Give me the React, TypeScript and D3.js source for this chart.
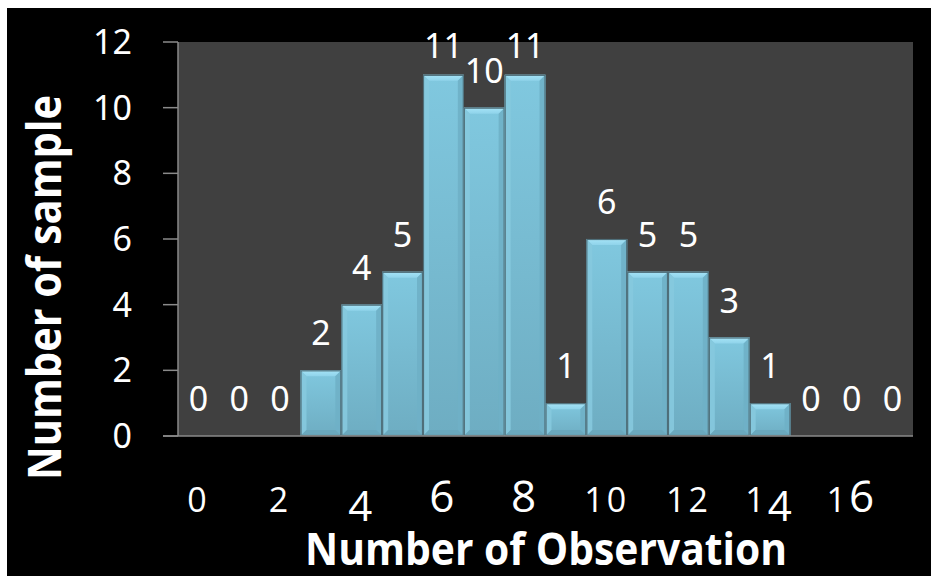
import React from "react";
import * as d3 from "d3";

// Histogram: number of samples per observation count
const categories = ["0", "1", "2", "3", "4", "5", "6", "7", "8", "9", "10", "11", "12", "13", "14", "15", "16", "17"];
const counts = [0, 0, 0, 2, 4, 5, 11, 10, 11, 1, 6, 5, 5, 3, 1, 0, 0, 0];
const xTickLabels = ["0", "2", "4", "6", "8", "10", "12", "14", "16"];
const yTicks = [0, 2, 4, 6, 8, 10, 12];

const W = 931;
const H = 576;
const plot = { left: 178, right: 913, top: 42, bottom: 436 };

const x = d3.scaleBand<string>().domain(categories).range([plot.left, plot.right]).padding(0);
const y = d3.scaleLinear().domain([0, 12]).range([plot.bottom, plot.top]);

// Old-style figure styling: x-height, ascending and descending digits
function digitStyle(ch: string) {
  if ("012".includes(ch)) return { size: 34, shift: 0 };
  if ("68".includes(ch)) return { size: 44, shift: 0 };
  return { size: 42, shift: 9 };
}

function OldStyleLabel({ text, cx, baseline }: { text: string; cx: number; baseline: number }) {
  let prev = 0;
  return (
    <text x={cx} y={baseline} textAnchor="middle" fill="#ffffff" fontFamily="'Open Sans', sans-serif" letterSpacing={3}>
      {text.split("").map((ch, i) => {
        const s = digitStyle(ch);
        const dy = s.shift - prev;
        prev = s.shift;
        return (
          <tspan key={i} fontSize={s.size} dy={dy}>
            {ch}
          </tspan>
        );
      })}
    </text>
  );
}

function Bar({ x0, w, y0, y1 }: { x0: number; w: number; y0: number; y1: number }) {
  const h = y1 - y0;
  if (h <= 0) return null;
  const b = Math.min(6, h / 2);
  const x1 = x0 + w;
  const pts = (arr: number[][]) => arr.map((p) => p.join(",")).join(" ");
  return (
    <g>
      <rect x={x0} y={y0} width={w} height={h} fill="url(#barFace)" />
      <polygon points={pts([[x0, y0], [x1, y0], [x1 - b, y0 + b], [x0 + b, y0 + b]])} fill="url(#barTop)" />
      <polygon points={pts([[x0, y0], [x0 + b, y0 + b], [x0 + b, y1 - b], [x0, y1]])} fill="#86c9de" opacity={0.9} />
      <polygon points={pts([[x1, y0], [x1, y1], [x1 - b, y1 - b], [x1 - b, y0 + b]])} fill="#6fb0c6" opacity={0.9} />
      <polygon points={pts([[x0, y1], [x0 + b, y1 - b], [x1 - b, y1 - b], [x1, y1]])} fill="#6aa8bd" />
      <rect x={x0 + 0.5} y={y0 + 0.5} width={w - 1} height={h - 1} fill="none" stroke="#4f6f7a" strokeWidth={1.2} />
    </g>
  );
}

export default function App() {
  const bw = x.bandwidth();
  return (
    <svg width={W} height={H} style={{ position: "absolute", left: 0, top: 0, display: "block" }}>
      <defs>
        <linearGradient id="barFace" x1="0" y1="0" x2="0" y2="1">
          <stop offset="0%" stopColor="#80c8df" />
          <stop offset="100%" stopColor="#6eadc2" />
        </linearGradient>
        <linearGradient id="barTop" x1="0" y1="0" x2="0" y2="1">
          <stop offset="0%" stopColor="#a6e4f7" />
          <stop offset="100%" stopColor="#8fd3ea" />
        </linearGradient>
      </defs>
      <rect x={0} y={0} width={W} height={H} fill="#ffffff" />
      <rect x={7} y={8} width={W - 7} height={H - 8} fill="#000000" />

      {/* plot area */}
      <rect x={plot.left} y={plot.top} width={plot.right - plot.left} height={plot.bottom - plot.top} fill="#404040" />

      {/* bars */}
      {counts.map((v, i) => (
        <Bar key={i} x0={x(categories[i])!} w={bw} y0={y(v)} y1={y(0)} />
      ))}

      {/* axes */}
      <line x1={plot.left} x2={plot.left} y1={plot.top} y2={plot.bottom} stroke="#8a8a8a" strokeWidth={1.5} />
      <line x1={163} x2={plot.right} y1={plot.bottom} y2={plot.bottom} stroke="#8a8a8a" strokeWidth={1.5} />
      {yTicks.map((t) => (
        <g key={t}>
          <line x1={163} x2={plot.left} y1={y(t)} y2={y(t)} stroke="#8a8a8a" strokeWidth={1.5} />
          <text
            x={132}
            y={y(t) + 12}
            textAnchor="end"
            fill="#ffffff"
            fontSize={34}
            fontFamily="'Noto Sans', sans-serif"
          >
            {t}
          </text>
        </g>
      ))}

      {/* x tick labels */}
      {xTickLabels.map((t) => (
        <OldStyleLabel key={t} text={t} cx={x(t)! + bw / 2} baseline={512} />
      ))}

      {/* value labels */}
      {counts.map((v, i) => (
        <text
          key={i}
          x={x(categories[i])! + bw / 2}
          y={Math.max(y(v) - 25, 58)}
          textAnchor="middle"
          fill="#ffffff"
          fontSize={34}
          fontFamily="'Noto Sans', sans-serif"
        >
          {v}
        </text>
      ))}

      {/* axis titles */}
      <text
        transform="translate(61,287.5) rotate(-90)"
        textAnchor="middle"
        fill="#ffffff"
        fontSize={46}
        fontWeight="bold"
        fontFamily="'Open Sans', sans-serif"
        textLength={385}
        lengthAdjust="spacingAndGlyphs"
      >
        Number of sample
      </text>
      <text
        x={546}
        y={565}
        textAnchor="middle"
        fill="#ffffff"
        fontSize={44}
        fontWeight="bold"
        fontFamily="'Open Sans', sans-serif"
        textLength={482}
        lengthAdjust="spacingAndGlyphs"
      >
        Number of Observation
      </text>
    </svg>
  );
}
